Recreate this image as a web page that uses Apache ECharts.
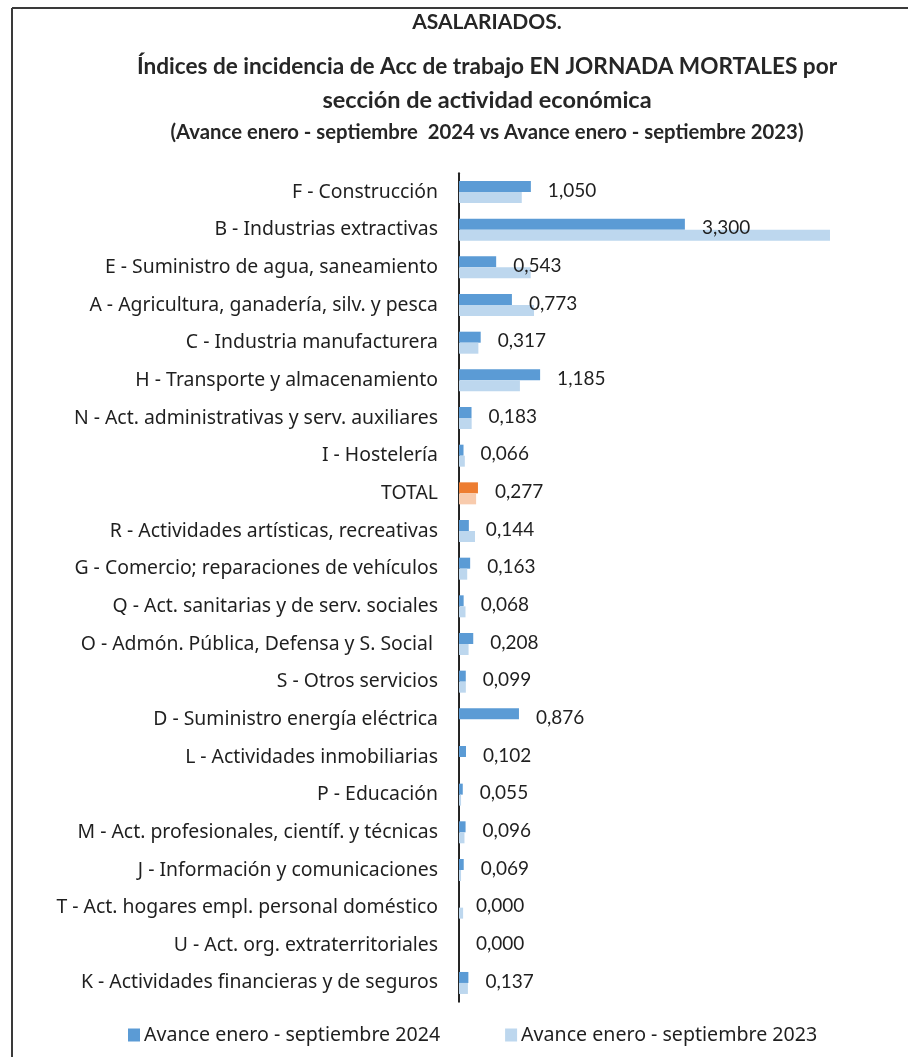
<!DOCTYPE html>
<html>
<head>
<meta charset="utf-8">
<script src="https://cdn.jsdelivr.net/npm/echarts@6/dist/echarts.min.js"></script>
<style>
  html, body { margin: 0; padding: 0; background: #ffffff; }
  #chart { width: 908px; height: 1057px; }
</style>
</head>
<body>
<div id="chart"></div>
<script>
// Sections of economic activity, top to bottom
const categories = [
  'F - Construcción',
  'B - Industrias extractivas',
  'E - Suministro de agua, saneamiento',
  'A - Agricultura, ganadería, silv. y pesca',
  'C - Industria manufacturera',
  'H - Transporte y almacenamiento',
  'N - Act. administrativas y serv. auxiliares',
  'I - Hostelería',
  'TOTAL',
  'R - Actividades artísticas, recreativas',
  'G - Comercio; reparaciones de vehículos',
  'Q - Act. sanitarias y de serv. sociales',
  'O - Admón. Pública, Defensa y S. Social ',
  'S - Otros servicios',
  'D - Suministro energía eléctrica',
  'L - Actividades inmobiliarias',
  'P - Educación',
  'M - Act. profesionales, científ. y técnicas',
  'J - Información y comunicaciones',
  'T - Act. hogares empl. personal doméstico',
  'U - Act. org. extraterritoriales',
  'K - Actividades financieras y de seguros'
];

// Incidence index, Jan-Sep 2024 (labelled values)
const values2024 = [
  1.050, 3.300, 0.543, 0.773, 0.317, 1.185, 0.183, 0.066, 0.277, 0.144, 0.163,
  0.068, 0.208, 0.099, 0.876, 0.102, 0.055, 0.096, 0.069, 0.000, 0.000, 0.137
];

// Incidence index, Jan-Sep 2023
const values2023 = [
  0.917, 5.420, 1.048, 1.096, 0.283, 0.890, 0.185, 0.085, 0.250, 0.234, 0.120,
  0.095, 0.140, 0.100, 0.000, 0.000, 0.030, 0.080, 0.030, 0.060, 0.000, 0.130
];

const seriesNames = ['Avance enero - septiembre 2024', 'Avance enero - septiembre 2023'];

const titleLines = [
  'ASALARIADOS.',
  'Índices de incidencia de Acc de trabajo EN JORNADA MORTALES por',
  'sección de actividad económica',
  '(Avance enero - septiembre  2024 vs Avance enero - septiembre 2023)'
];

const FONT = 'Lato, "Noto Sans", sans-serif';
const FONT_WIDE = '"Noto Sans", Lato, sans-serif';
const TEXT = '#1f1f1f';
const BLUE = '#5b9bd5', BLUE_LIGHT = '#bdd7ee';
const ORANGE = '#ed7d31', ORANGE_LIGHT = '#f8cbad';
const TOTAL_KEY = 'TOTAL';

function withHighlight(values, highlight) {
  return values.map((v, i) => categories[i] === TOTAL_KEY
    ? { value: v, itemStyle: { color: highlight } }
    : v);
}

const fmt = v => v.toFixed(3).replace('.', ',');

const chart = echarts.init(document.getElementById('chart'), null, { renderer: 'canvas' });

const titleGraphics = [
  { y: 22, size: 21, text: titleLines[0] },
  { y: 67, size: 22.6, text: titleLines[1] },
  { y: 100, size: 23.5, text: titleLines[2] },
  { y: 132, size: 20.3, text: titleLines[3] }
].map(t => ({
  type: 'text',
  x: 487,
  y: t.y,
  style: {
    text: t.text,
    fill: '#262626',
    font: `bold ${t.size}px ${FONT}`,
    textAlign: 'center',
    textVerticalAlign: 'middle'
  }
}));

chart.setOption({
  animation: false,
  backgroundColor: '#ffffff',
  textStyle: { fontFamily: FONT },
  graphic: [
    // chart frame (top and left edges)
    { type: 'line', shape: { x1: 12, y1: 8, x2: 908, y2: 8 }, style: { stroke: '#3a3a3a', lineWidth: 2 } },
    { type: 'line', shape: { x1: 12, y1: 8, x2: 12, y2: 1057 }, style: { stroke: '#3a3a3a', lineWidth: 2 } },
    ...titleGraphics
  ],
  legend: {
    data: seriesNames,
    left: 128,
    top: 1025,
    padding: 0,
    icon: 'rect',
    itemWidth: 12,
    itemHeight: 13,
    itemGap: 65,
    textStyle: { fontSize: 19.6, color: TEXT, fontFamily: FONT_WIDE, padding: [0, 0, 0, -1] }
  },
  grid: { left: 459, top: 173.2, right: 38.3, bottom: 55.2, containLabel: false },
  xAxis: {
    type: 'value',
    min: 0,
    max: 6,
    show: false
  },
  yAxis: {
    type: 'category',
    inverse: true,
    data: categories,
    axisLine: { show: true, lineStyle: { color: '#262626', width: 2 } },
    axisTick: { show: false },
    axisLabel: { margin: 21, fontSize: 19.4, color: TEXT, fontFamily: FONT_WIDE }
  },
  series: [
    {
      name: seriesNames[0],
      type: 'bar',
      barWidth: 11,
      barGap: '0%',
      itemStyle: { color: BLUE },
      data: withHighlight(values2024, ORANGE),
      label: {
        show: true,
        position: 'right',
        distance: 17,
        offset: [0, 4],
        fontSize: 19,
        color: TEXT,
        fontFamily: FONT,
        formatter: p => fmt(p.value)
      }
    },
    {
      name: seriesNames[1],
      type: 'bar',
      barWidth: 11,
      barGap: '0%',
      itemStyle: { color: BLUE_LIGHT },
      data: withHighlight(values2023, ORANGE_LIGHT)
    }
  ]
});
</script>
</body>
</html>
